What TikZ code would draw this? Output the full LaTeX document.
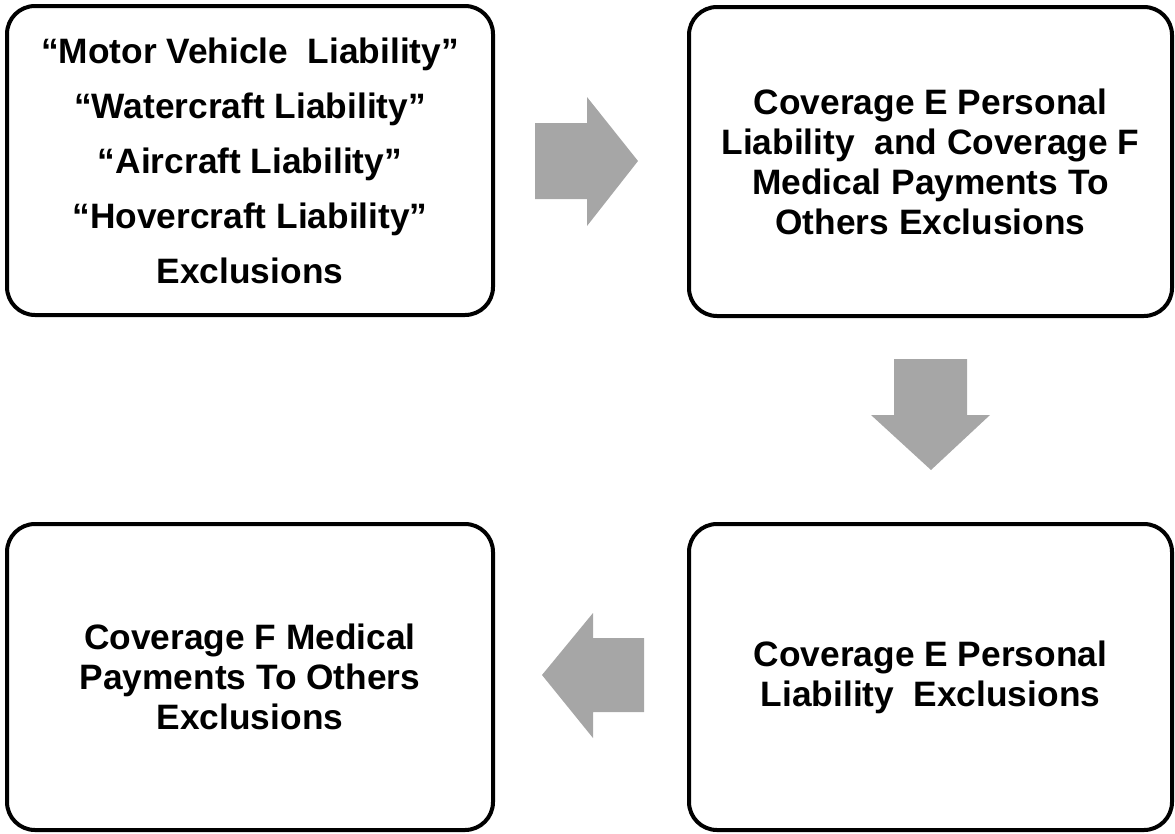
\documentclass[tikz,border=0pt]{standalone}
\usepackage{fontspec}
\setmainfont{Liberation Sans}
\begin{document}
\begin{tikzpicture}[x=1pt,y=-1pt,
  box/.style={draw=black, line width=4pt, rounded corners=28pt, fill=white,
    inner sep=0pt, outer sep=0pt, minimum width=484pt, minimum height=309pt,
    align=center, font=\bfseries\fontsize{35.3}{40}\selectfont},
  blockarrow/.style={fill=arrowgray, draw=none}]
\definecolor{arrowgray}{HTML}{A6A6A6}
\useasboundingbox (0,0) rectangle (1175,833);
\node[box, minimum width=486pt, font=\bfseries\fontsize{35.3}{55}\selectfont] (tl) at (250,160.5)
  {``Motor Vehicle\ \ Liability''\\``Watercraft Liability''\\``Aircraft Liability''\\``Hovercraft Liability''\\Exclusions};
\node[box, minimum width=483pt] (tr) at (930.5,161.5)
  {Coverage E Personal\\Liability\ \ and Coverage F\\Medical\ Payments To\\Others Exclusions};
\node[box, minimum width=483pt, minimum height=306pt] (br) at (930.5,677)
  {Coverage E Personal\\Liability\ \ Exclusions};
\node[box, minimum width=486pt, minimum height=306pt] (bl) at (250,677)
  {Coverage F Medical\\Payments To Others\\Exclusions};
% right arrow
\path[blockarrow] (535,123) -- (587,123) -- (587,97) -- (638,161) -- (587,226) -- (587,199) -- (535,199) -- cycle;
% down arrow
\path[blockarrow] (894,359) -- (967,359) -- (967,415) -- (990,415) -- (931,470) -- (871,415) -- (894,415) -- cycle;
% left arrow
\path[blockarrow] (644,638) -- (593,638) -- (593,613) -- (542,675) -- (593,738) -- (593,712) -- (644,712) -- cycle;
\end{tikzpicture}
\end{document}
